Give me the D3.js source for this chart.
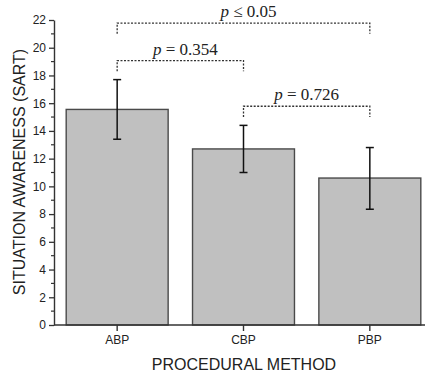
<!DOCTYPE html>
<html>
<head>
<meta charset="utf-8">
<script src="https://cdn.jsdelivr.net/npm/d3@7"></script>
<style>
  html, body { margin: 0; padding: 0; background: #fff; }
  svg { display: block; }
</style>
</head>
<body>
<svg id="chart" width="425" height="377"></svg>
<script>
// ---- data ----
const categories = ["ABP", "CBP", "PBP"];
const means = [15.55, 12.7, 10.6];
const errUpper = [17.7, 14.4, 12.8];
const errLower = [13.4, 11.0, 8.35];
const yTicks = [0, 2, 4, 6, 8, 10, 12, 14, 16, 18, 20, 22];
const bracketFrom = ["ABP", "ABP", "CBP"];
const bracketTo = ["PBP", "CBP", "PBP"];
const bracketLevel = [21.77, 19.07, 15.78];
const bracketEnd = [21.0, 18.3, 15.0];
const bracketLabelOp = ["\u2264", "=", "="];
const bracketLabelVal = ["0.05", "0.354", "0.726"];
const xTitle = "PROCEDURAL METHOD";
const yTitle = "SITUATION AWARENESS (SART)";

(function () {
// ---- layout ----
const W = 425, H = 377;
const mLeft = 54, mTop = 20, mBottom = 325;
const labelShift = [5, 5, 0];
const svg = d3.select("#chart");

const x = d3.scaleBand().domain(categories).range([mLeft, 433])
  .paddingInner(0.193).paddingOuter(0.0965);
const y = d3.scaleLinear().domain([0, 22]).range([mBottom, mTop]);

const ink = "#333";

// bars
svg.append("g").selectAll("rect").data(categories).join("rect")
  .attr("x", d => x(d))
  .attr("y", (d, i) => y(means[i]))
  .attr("width", x.bandwidth())
  .attr("height", (d, i) => y(0) - y(means[i]))
  .attr("fill", "#c0c0c0")
  .attr("stroke", "#4a4a4a")
  .attr("stroke-width", 1.4);

// error bars
const eb = svg.append("g").attr("stroke", "#111").attr("stroke-width", 1.5);
categories.forEach((c, i) => {
  const cx = x(c) + x.bandwidth() / 2;
  eb.append("line").attr("x1", cx).attr("x2", cx)
    .attr("y1", y(errUpper[i])).attr("y2", y(errLower[i]));
  [errUpper[i], errLower[i]].forEach(v => {
    eb.append("line").attr("x1", cx - 4).attr("x2", cx + 4)
      .attr("y1", y(v)).attr("y2", y(v));
  });
});

// y axis
const yAxis = d3.axisLeft(y).tickValues(yTicks).tickSize(5).tickSizeOuter(0).tickPadding(3);
const gy = svg.append("g").attr("transform", `translate(${mLeft},0)`).call(yAxis);
gy.select(".domain").attr("stroke", ink).attr("stroke-width", 1.4);
gy.selectAll(".tick line").attr("stroke", ink).attr("stroke-width", 1.3);
gy.selectAll(".tick text").attr("font-family", "Liberation Sans, Arial, sans-serif")
  .attr("font-size", 12).attr("fill", "#222");
// minor ticks
const minor = d3.range(1, 22, 2);
gy.selectAll(".minor").data(minor).join("line").attr("class", "minor")
  .attr("x1", -3).attr("x2", 0)
  .attr("y1", d => y(d)).attr("y2", d => y(d))
  .attr("stroke", ink).attr("stroke-width", 1.2);

// x axis
const xAxis = d3.axisBottom(x).tickSize(6).tickSizeOuter(0).tickPadding(4);
const gx = svg.append("g").attr("transform", `translate(0,${mBottom})`).call(xAxis);
gx.select(".domain").remove();
gx.append("line").attr("x1", mLeft).attr("x2", W).attr("y1", 0).attr("y2", 0)
  .attr("stroke", ink).attr("stroke-width", 1.6);
gx.selectAll(".tick line").attr("stroke", ink).attr("stroke-width", 1.4);
gx.selectAll(".tick text").attr("font-family", "Liberation Sans, Arial, sans-serif")
  .attr("font-size", 12).attr("fill", "#222");

// axis titles
svg.append("text").attr("x", 244).attr("y", 370).attr("text-anchor", "middle")
  .attr("font-family", "Liberation Sans, Arial, sans-serif").attr("font-size", 16)
  .attr("fill", "#222").text(xTitle);
svg.append("text").attr("transform", `translate(25,172) rotate(-90)`)
  .attr("text-anchor", "middle")
  .attr("font-family", "Liberation Sans, Arial, sans-serif").attr("font-size", 16)
  .attr("fill", "#222").text(yTitle);

// significance brackets
const bg = svg.append("g");
bracketFrom.forEach((f, i) => {
  const x1 = x(f) + x.bandwidth() / 2;
  const x2 = x(bracketTo[i]) + x.bandwidth() / 2;
  const yl = y(bracketLevel[i]), ye = y(bracketEnd[i]);
  bg.append("path")
    .attr("d", `M${x1},${ye}V${yl}H${x2}V${ye}`)
    .attr("fill", "none").attr("stroke", "#333").attr("stroke-width", 1.3)
    .attr("stroke-dasharray", "2,1.5");
  const t = bg.append("text").attr("x", (x1 + x2) / 2 + labelShift[i]).attr("y", yl - 6)
    .attr("text-anchor", "middle")
    .attr("font-family", "Liberation Serif, Times New Roman, serif")
    .attr("font-size", 17).attr("fill", "#222");
  t.append("tspan").attr("font-style", "italic").text("p");
  t.append("tspan").text(" " + bracketLabelOp[i] + " " + bracketLabelVal[i]);
});
})();
</script>
</body>
</html>
